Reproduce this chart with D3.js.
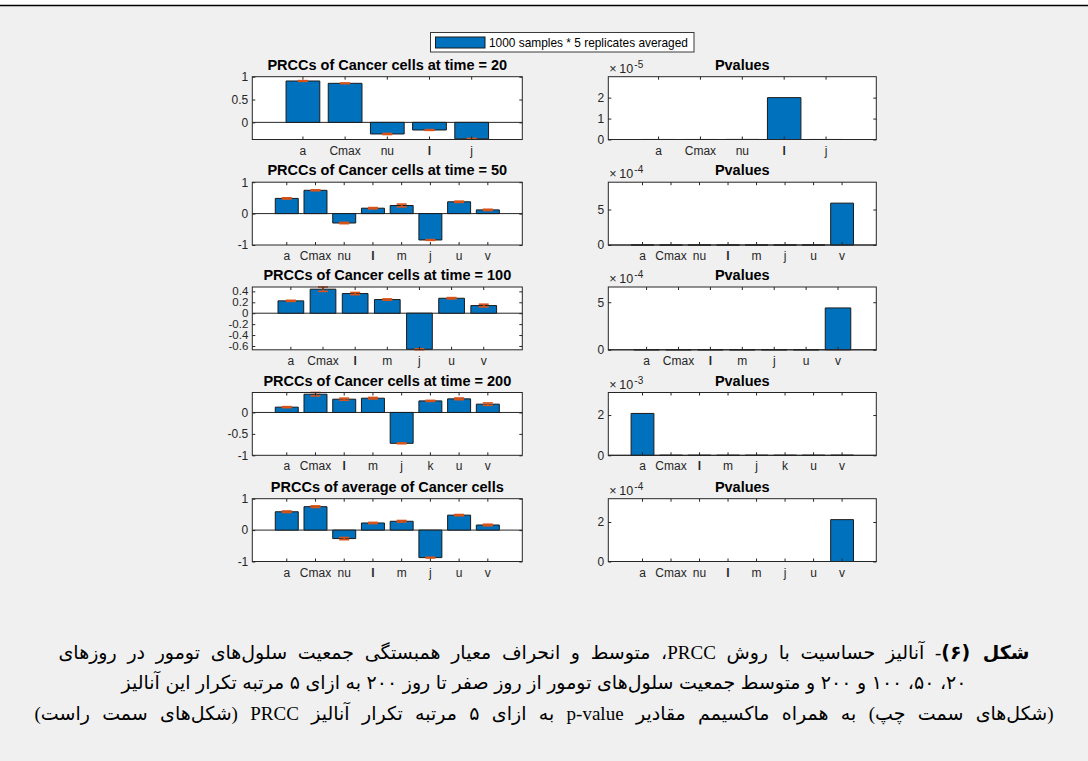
<!DOCTYPE html>
<html>
<head>
<meta charset="utf-8">
<script src="https://cdn.jsdelivr.net/npm/d3@7"></script>
<style>
  html, body { margin: 0; padding: 0; background: #f0f0f0; }
  #wrap { position: relative; width: 1088px; height: 761px; overflow: hidden; background: #f0f0f0; }
  svg { position: absolute; left: 0; top: 0; }
  .cap-line {
    position: absolute; left: 0; width: 1088px; text-align: center;
    direction: rtl; white-space: nowrap; color: #000;
    font-family: "Liberation Serif", "DejaVu Sans", serif; font-size: 19px; line-height: 24px;
  }
  .cap-line b { font-family: "DejaVu Sans", sans-serif; font-weight: bold; }
</style>
</head>
<body>
<div id="wrap"></div>
<script>
// ---- categories (model parameters) ----
const catsT20  = ["a", "Cmax", "nu", "l", "j"];
const catsT50  = ["a", "Cmax", "nu", "l", "m", "j", "u", "v"];
const catsT100 = ["a", "Cmax", "l", "m", "j", "u", "v"];
const catsT200 = ["a", "Cmax", "l", "m", "j", "k", "u", "v"];
const catsAvg  = ["a", "Cmax", "nu", "l", "m", "j", "u", "v"];

// ---- PRCC means and their standard deviations over 5 replicates ----
const prccT20  = [0.906, 0.855, -0.254, -0.167, -0.36];
const sdT20    = [0.008, 0.008, 0.012, 0.008, 0.008];
const prccT50  = [0.484, 0.742, -0.30, 0.172, 0.258, -0.84, 0.376, 0.118];
const sdT50    = [0.02, 0.015, 0.02, 0.02, 0.045, 0.012, 0.02, 0.02];
const prccT100 = [0.226, 0.44, 0.36, 0.25, -0.66, 0.274, 0.14];
const sdT100   = [0.01, 0.04, 0.02, 0.012, 0.008, 0.012, 0.025];
const prccT200 = [0.124, 0.426, 0.31, 0.333, -0.72, 0.27, 0.318, 0.194];
const sdT200   = [0.012, 0.04, 0.025, 0.018, 0.01, 0.012, 0.02, 0.028];
const prccAvg  = [0.584, 0.746, -0.27, 0.227, 0.281, -0.876, 0.476, 0.162];
const sdAvg    = [0.025, 0.025, 0.035, 0.018, 0.025, 0.012, 0.02, 0.025];

// ---- maximum p-values over 5 replicates ----
const pvalT20  = [2e-8, 2e-8, 4e-8, 2.0e-5, 2e-8];
const pvalT50  = [0, 0, 0, 0, 0, 0, 0, 5.9e-4];
const pvalT100 = [0, 0, 0, 0, 0, 0, 4.4e-4];
const pvalT200 = [2.08e-3, 1e-6, 1e-6, 1e-6, 1e-6, 1e-6, 1e-6, 4e-6];
const pvalAvg  = [0, 0, 0, 0, 0, 0, 0, 2.12e-4];

// ---- axis limits and tick values ----
const prccLimits = [[-0.375, 1], [-1, 1], [-0.67, 0.48], [-1, 0.466], [-1, 1]];
const prccTicks  = [[0, 0.5, 1], [-1, 0, 1], [-0.6, -0.4, -0.2, 0, 0.2, 0.4], [-1, -0.5, 0], [-1, 0, 1]];
const pvalExponents = [-5, -4, -4, -3, -4];
const pvalTicks  = [[0, 1, 2], [0, 5], [0, 5], [0, 2], [0, 2]];

const prccTitles = [
  "PRCCs of Cancer cells at time = 20",
  "PRCCs of Cancer cells at time = 50",
  "PRCCs of Cancer cells at time = 100",
  "PRCCs of Cancer cells at time = 200",
  "PRCCs of average of Cancer cells"
];
const legendLabel = "1000 samples * 5 replicates averaged";

const captionLines = [
  "<b>شکل (۶)</b>- آنالیز حساسیت با روش PRCC، متوسط و انحراف معیار همبستگی جمعیت سلول\u200cهای تومور در روزهای",
  "۲۰، ۵۰، ۱۰۰ و ۲۰۰ و متوسط جمعیت سلول\u200cهای تومور از روز صفر تا روز ۲۰۰ به ازای ۵ مرتبه تکرار این آنالیز",
  "(شکل\u200cهای سمت چپ) به همراه ماکسیمم مقادیر p-value به ازای ۵ مرتبه تکرار آنالیز PRCC (شکل\u200cهای سمت راست)"
];

// ---- panel assembly ----
const cats  = [catsT20, catsT50, catsT100, catsT200, catsAvg];
const prcc  = [prccT20, prccT50, prccT100, prccT200, prccAvg];
const sds   = [sdT20, sdT50, sdT100, sdT200, sdAvg];
const pvals = [pvalT20, pvalT50, pvalT100, pvalT200, pvalAvg];

// ---- layout ----
const W = 1088, H = 761;
const leftX = [252.3, 522.3], rightX = [608.3, 876.3];
const rowTops = [76.7, 182.2, 287, 392.5, 498.7];
const rowH = 62.8;

const BLUE = "#0072BD", ORANGE = "#D95319", AXC = "#262626";
const FONT = "'Liberation Sans', Arial, Helvetica, sans-serif";

const wrap = d3.select("#wrap");
const svg = wrap.append("svg").attr("width", W).attr("height", H)
  .style("font-family", FONT);

// rule across the top of the page
svg.append("rect").attr("x", 0).attr("y", 0).attr("width", W).attr("height", 5).attr("fill", "#ffffff");
svg.append("line").attr("x1", 0).attr("x2", W).attr("y1", 5.5).attr("y2", 5.5)
  .attr("stroke", "#000").attr("stroke-width", 1.3);

function barPath(x0, w, y0, y1) {
  const p = d3.path();
  const top = Math.min(y0, y1), h = Math.abs(y1 - y0);
  p.moveTo(x0, top); p.lineTo(x0 + w, top); p.lineTo(x0 + w, top + h); p.lineTo(x0, top + h); p.closePath();
  return p.toString();
}

function drawPanel(opts) {
  const { categories, values, errors, domain, ticks, tickFmt, x0, x1, top, title, exponent } = opts;
  const bottom = top + rowH;
  const g = svg.append("g");

  const x = d3.scaleBand().domain(categories).range([x0, x1]).paddingInner(0.2).paddingOuter(0.8);
  const y = d3.scaleLinear().domain(domain).range([bottom, top]);

  // plot area
  g.append("rect").attr("x", x0).attr("y", top).attr("width", x1 - x0).attr("height", rowH)
    .attr("fill", "#ffffff");

  // bar baseline at zero
  g.append("line").attr("x1", x0).attr("x2", x1).attr("y1", y(0)).attr("y2", y(0))
    .attr("stroke", AXC).attr("stroke-width", 1);

  // bars
  g.selectAll("path.bar").data(values).join("path").attr("class", "bar")
    .attr("d", (d, i) => barPath(x(categories[i]), x.bandwidth(), y(0), y(d)))
    .attr("fill", BLUE).attr("stroke", "#1b1b1b").attr("stroke-width", 1);

  // error bars
  if (errors) {
    const eg = g.append("g").attr("stroke", ORANGE).attr("stroke-width", 1.6).attr("fill", "none");
    values.forEach((d, i) => {
      const cx = x(categories[i]) + x.bandwidth() / 2;
      const ylo = y(d - errors[i]), yhi = y(d + errors[i]);
      eg.append("line").attr("x1", cx).attr("x2", cx).attr("y1", ylo).attr("y2", yhi);
      eg.append("line").attr("x1", cx - 5).attr("x2", cx + 5).attr("y1", ylo).attr("y2", ylo);
      eg.append("line").attr("x1", cx - 5).attr("x2", cx + 5).attr("y1", yhi).attr("y2", yhi);
    });
  }

  // axes with inward ticks, labels on left and bottom only
  const axL = d3.axisLeft(y).tickValues(ticks).tickSize(-3).tickPadding(4).tickFormat(tickFmt);
  const axR = d3.axisRight(y).tickValues(ticks).tickSize(-3).tickFormat("");
  const axB = d3.axisBottom(x).tickSize(-3).tickPadding(6.5);
  const axT = d3.axisTop(x).tickSize(-3).tickFormat("");

  const dense = ticks.length > 4;
  const styleAxis = sel => {
    sel.select(".domain").remove();
    sel.selectAll("line").attr("stroke", AXC);
    sel.selectAll("text").attr("fill", AXC).style("font-size", "12px").style("font-family", FONT);
  };
  g.append("g").attr("transform", `translate(${x0},0)`).call(axL).call(styleAxis)
    .selectAll("text").style("font-size", dense ? "11.5px" : "12px")
    .attr("dy", dense ? "0.3em" : "0.32em");
  g.append("g").attr("transform", `translate(${x1},0)`).call(axR).call(styleAxis);
  g.append("g").attr("transform", `translate(0,${bottom})`).call(axB).call(styleAxis)
    .selectAll("text").style("font-weight", d => d === "l" ? "bold" : "normal");
  g.append("g").attr("transform", `translate(0,${top})`).call(axT).call(styleAxis);

  // frame
  g.append("rect").attr("x", x0).attr("y", top).attr("width", x1 - x0).attr("height", rowH)
    .attr("fill", "none").attr("stroke", AXC).attr("stroke-width", 1);

  // title
  g.append("text").attr("x", (x0 + x1) / 2).attr("y", top - 7).attr("text-anchor", "middle")
    .style("font-size", "14.5px").style("font-weight", "bold").attr("fill", "#000").text(title);

  // exponent multiplier
  if (exponent !== undefined) {
    const t = g.append("text").attr("y", top - 4).attr("fill", AXC).style("font-size", "12.5px");
    t.append("tspan").attr("x", x0 + 1).text("\u00d7");
    t.append("tspan").attr("x", x0 + 11).text("10");
    t.append("tspan").attr("x", x0 + 26).attr("dy", -5).style("font-size", "10px").text(String(exponent));
  }
}

for (let r = 0; r < 5; r++) {
  drawPanel({
    categories: cats[r], values: prcc[r], errors: sds[r],
    domain: prccLimits[r], ticks: prccTicks[r], tickFmt: d => String(d),
    x0: leftX[0], x1: leftX[1], top: rowTops[r], title: prccTitles[r]
  });
  const scale = Math.pow(10, pvalExponents[r]);
  drawPanel({
    categories: cats[r], values: pvals[r], errors: null,
    domain: [0, 1.5 * d3.max(pvals[r])], ticks: pvalTicks[r].map(t => t * scale),
    tickFmt: d => d3.format("~g")(Math.round(d / scale * 1000) / 1000),
    x0: rightX[0], x1: rightX[1], top: rowTops[r], title: "Pvalues", exponent: pvalExponents[r]
  });
}

// legend
const lg = svg.append("g");
lg.append("rect").attr("x", 430.5).attr("y", 32.5).attr("width", 263.5).attr("height", 19.5)
  .attr("fill", "#ffffff").attr("stroke", "#3a3a3a").attr("stroke-width", 1);
lg.append("rect").attr("x", 435.5).attr("y", 37).attr("width", 49.5).attr("height", 11)
  .attr("fill", BLUE).attr("stroke", "#1b1b1b").attr("stroke-width", 1);
lg.append("text").attr("x", 489).attr("y", 46.5).attr("fill", "#000")
  .style("font-size", "11.9px").text(legendLabel);

// caption
const capBaselines = [659, 690, 721];
const capWidths = [971, 845, 1019];
captionLines.forEach((html, i) => {
  const div = wrap.append("div").attr("class", "cap-line").style("top", (capBaselines[i] - 18.6) + "px");
  const span = div.append("span").html(html);
  let natural = span.node().getBoundingClientRect().width;
  if (natural > capWidths[i]) {
    const fs = 19 * capWidths[i] / natural;
    div.style("font-size", fs + "px");
    natural = span.node().getBoundingClientRect().width;
  }
  const spaces = (span.node().textContent.match(/ /g) || []).length;
  if (spaces > 0 && capWidths[i] > natural) {
    span.style("word-spacing", ((capWidths[i] - natural) / spaces) + "px");
  }
});
</script>
</body>
</html>
